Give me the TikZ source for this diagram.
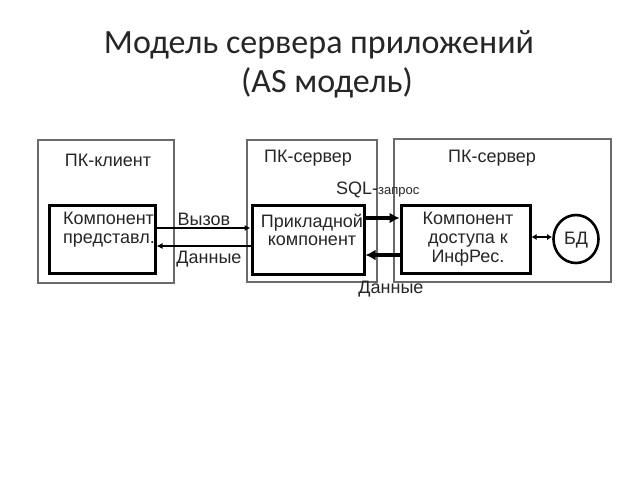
\documentclass[tikz,border=0pt]{standalone}
\usepackage{fontspec}
\setmainfont{Liberation Sans}
\newfontfamily\titlefont{Carlito}
\usetikzlibrary{arrows.meta,shapes.geometric}
\definecolor{txt}{HTML}{262626}
\definecolor{frame}{HTML}{6A6A6A}
\tikzset{
  outerbox/.style={draw=frame, line width=1.1pt, rectangle, inner sep=0pt},
  innerbox/.style={draw=black, line width=3pt, rectangle, inner sep=0pt},
  lbl/.style={text=txt, font=\fontsize{18}{18.7}\selectfont, inner sep=0pt},
  thinarrow/.style={draw=black, line width=1.6pt, -{Latex[length=6pt,width=6pt]}},
  thickarrow/.style={draw=black, line width=3.2pt, -{Latex[length=10pt,width=11pt]}},
}
\begin{document}
\begin{tikzpicture}[x=1pt,y=-1pt]
\useasboundingbox[fill=white] (0,0) rectangle (640,480);
% title
\node[text=txt, font=\titlefont\fontsize{34}{38}\selectfont, inner sep=0pt] (t1) at (319,45) {Модель сервера приложений};
\node[text=txt, font=\titlefont\fontsize{34}{38}\selectfont, inner sep=0pt] (t2) at (327,83) {(AS модель)};
% outer boxes
\node[outerbox, minimum width=136pt, minimum height=143pt] (o1) at (106,211.5) {};
\node[outerbox, minimum width=130pt, minimum height=142pt] (o2) at (312,211) {};
\node[outerbox, minimum width=217pt, minimum height=143pt] (o3) at (502.5,210.5) {};
\node[lbl] (h1) at (108,160) {ПК-клиент};
\node[lbl] (h2) at (308,158) {ПК-сервер};
\node[lbl] (h3) at (492,158) {ПК-сервер};
% inner boxes
\node[innerbox, minimum width=106pt, minimum height=68pt] (i1) at (102,239) {};
\node[innerbox, minimum width=112pt, minimum height=69pt] (i2) at (308,239.5) {};
\node[innerbox, minimum width=129pt, minimum height=68pt] (i3) at (465.5,239) {};
\node[draw=black, line width=2.6pt, ellipse, minimum width=45pt, minimum height=48pt, inner sep=0pt] (db) at (576,239) {};
\node[lbl] (dbl) at (576,240) {БД};
\node[lbl, align=left, anchor=west] (c1) at (63,230) {Компонент\\представл.};
\node[lbl, align=center] (c2) at (312,230) {Прикладной\\компонент};
\node[lbl, align=center] (c3) at (468,239) {Компонент\\доступа к\\ИнфРес.};
% connectors
\draw[thinarrow] (i1.east |- 0,228) -- (i2.west |- 0,228);
\draw[thinarrow] (i2.west |- 0,246) -- (i1.east |- 0,246);
\draw[thickarrow] (i2.east |- 0,218) -- (i3.west |- 0,218);
\draw[thickarrow] (i3.west |- 0,255) -- (i2.east |- 0,255);
\draw[draw=black, line width=1.6pt, {Latex[length=5pt,width=6pt]}-{Latex[length=5pt,width=6pt]}] (i3.east |- 0,237) -- (db.west |- 0,237);
% connector labels
\node[lbl] (l1) at (204,219) {Вызов};
\node[lbl] (l2) at (209,259) {Данные};
\node[lbl, anchor=west] (l3) at (336,190) {SQL-{\fontsize{13}{14}\selectfont запрос}};
\node[lbl] (l4) at (391,289) {Данные};
\end{tikzpicture}
\end{document}
